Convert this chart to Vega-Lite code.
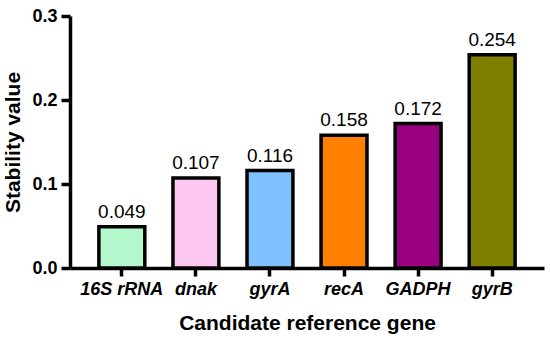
{
  "$schema": "https://vega.github.io/schema/vega-lite/v6.json",
  "width": 474,
  "height": 252,
  "autosize": {"type": "none"},
  "padding": {"left": 70, "top": 16, "right": 6, "bottom": 74},
  "background": "white",
  "config": {"view": {"stroke": null}, "font": "Liberation Sans"},
  "data": {"values": [
    {"gene": "16S rRNA", "value": 0.049, "color": "#b3f7cc"},
    {"gene": "dnak", "value": 0.107, "color": "#fcc8f0"},
    {"gene": "gyrA", "value": 0.116, "color": "#80c0ff"},
    {"gene": "recA", "value": 0.158, "color": "#ff8000"},
    {"gene": "GADPH", "value": 0.172, "color": "#990080"},
    {"gene": "gyrB", "value": 0.254, "color": "#808000"}
  ]},
  "encoding": {
    "x": {
      "field": "gene", "type": "nominal", "sort": null,
      "scale": {"paddingInner": 0.38, "paddingOuter": 0.39},
      "axis": {
        "title": "Candidate reference gene", "titleFontSize": 21, "titleFontWeight": "bold", "titleColor": "black", "titlePadding": 14,
        "labelAngle": 0, "labelFontSize": 18, "labelFontWeight": "bold", "labelFontStyle": "italic", "labelColor": "black", "labelPadding": 4,
        "domainColor": "black", "domainWidth": 3.5, "tickColor": "black", "tickWidth": 3.5, "tickSize": 8
      }
    },
    "y": {
      "field": "value", "type": "quantitative",
      "scale": {"domain": [0, 0.3], "nice": false},
      "axis": {
        "title": "Stability value", "titleFontSize": 21, "titleFontWeight": "bold", "titleColor": "black", "titlePadding": 8,
        "values": [0, 0.1, 0.2, 0.3], "format": ".1f", "grid": false,
        "labelFontSize": 18, "labelFontWeight": "bold", "labelColor": "black", "labelPadding": 4,
        "domainColor": "black", "domainWidth": 3.5, "tickColor": "black", "tickWidth": 3.5, "tickSize": 9
      }
    }
  },
  "layer": [
    {
      "mark": {"type": "bar", "stroke": "black", "strokeWidth": 3.5},
      "encoding": {"fill": {"field": "color", "type": "nominal", "scale": null}}
    },
    {
      "mark": {"type": "text", "baseline": "alphabetic", "dy": -9, "fontSize": 19, "color": "black"},
      "encoding": {"text": {"field": "value", "type": "quantitative", "format": ".3f"}}
    }
  ]
}
